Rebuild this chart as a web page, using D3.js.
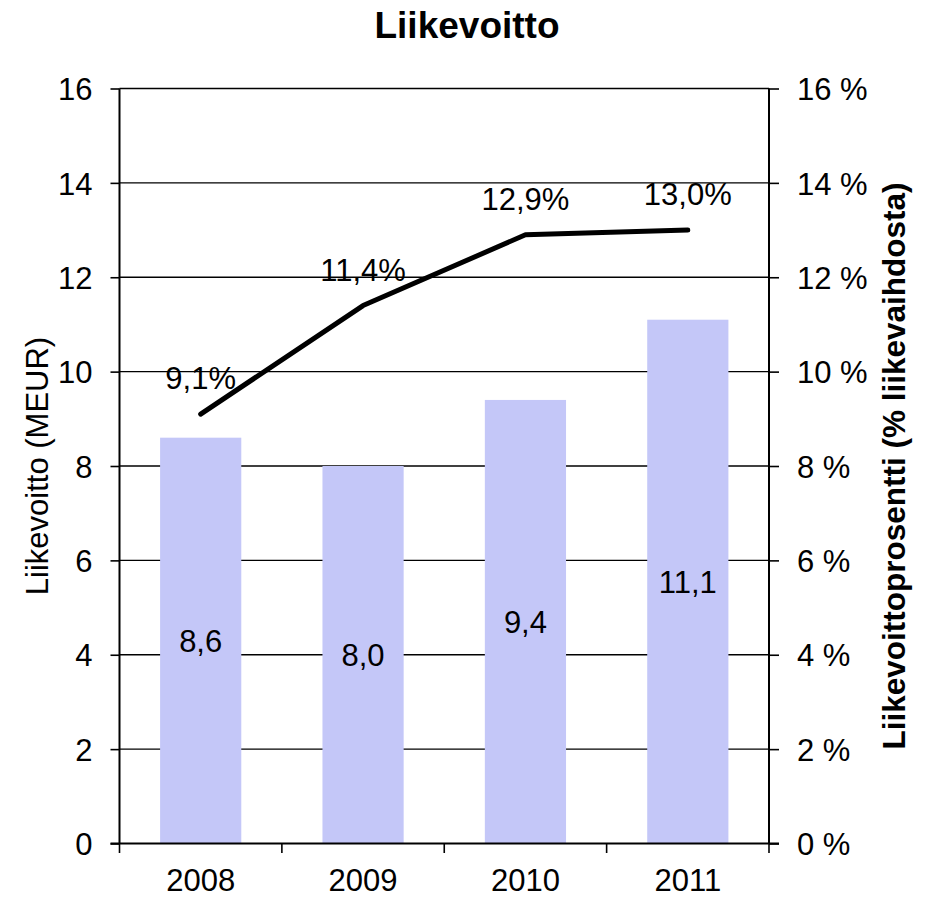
<!DOCTYPE html>
<html>
<head>
<meta charset="utf-8">
<script src="https://cdn.jsdelivr.net/npm/d3@7"></script>
<style>
  html, body { margin: 0; padding: 0; background: #fff; }
  svg { display: block; font-family: "Liberation Sans", Arial, Helvetica, sans-serif; }
</style>
</head>
<body>
<svg id="chart" width="925" height="897"></svg>
<script>
const years = ["2008", "2009", "2010", "2011"];
const operatingProfit = [8.6, 8.0, 9.4, 11.1];      // MEUR
const operatingMargin = [9.1, 11.4, 12.9, 13.0];     // % of revenue
const leftTicks = [0, 2, 4, 6, 8, 10, 12, 14, 16];
const rightTicks = [0, 2, 4, 6, 8, 10, 12, 14, 16];
const title = "Liikevoitto";
const leftTitle = "Liikevoitto (MEUR)";
const rightTitle = "Liikevoittoprosentti (% liikevaihdosta)";

const FS = 31;
const svg = d3.select("#chart");
const plot = { left: 119.5, right: 769, top: 88.5, bottom: 843.5 };

const x = d3.scaleBand().domain(years).range([plot.left, plot.right])
  .paddingInner(0.5).paddingOuter(0.25);
const y = d3.scaleLinear().domain([0, 16]).range([plot.bottom, plot.top]);
const y2 = d3.scaleLinear().domain([0, 16]).range([plot.bottom, plot.top]);
const comma = v => d3.format(".1f")(v).replace(".", ",");

// gridlines
svg.append("g").selectAll("line").data(leftTicks.filter(d => d > 0)).join("line")
  .attr("x1", plot.left).attr("x2", plot.right)
  .attr("y1", d => y(d)).attr("y2", d => y(d))
  .attr("stroke", "#000").attr("stroke-width", 1.4);

// bars
svg.append("g").selectAll("rect").data(years).join("rect")
  .attr("x", d => x(d)).attr("width", x.bandwidth())
  .attr("y", (d, i) => y(operatingProfit[i]))
  .attr("height", (d, i) => y(0) - y(operatingProfit[i]))
  .attr("fill", "#c4c7f8");

// left axis
const gl = svg.append("g").attr("transform", `translate(${plot.left},0)`)
  .call(d3.axisLeft(y).tickValues(leftTicks).tickSize(9).tickPadding(18).tickFormat(d3.format("d")));
// right axis
const gr = svg.append("g").attr("transform", `translate(${plot.right},0)`)
  .call(d3.axisRight(y2).tickValues(rightTicks).tickSize(10).tickPadding(18).tickFormat(d => d + " %"));
[gl, gr].forEach(g => {
  g.select(".domain").attr("stroke", "#000").attr("stroke-width", 2);
  g.selectAll(".tick line").attr("stroke", "#000").attr("stroke-width", 1.6);
  g.selectAll(".tick text").attr("font-size", FS).attr("fill", "#000")
    .attr("font-family", "Liberation Sans, Arial, sans-serif").attr("dy", "0.36em");
});
gl.select(".domain").attr("d", `M0,${plot.top}V${plot.bottom}`);
gr.select(".domain").attr("d", `M0,${plot.top}V${plot.bottom}`);

// bottom axis: line + boundary ticks
const step = x.step();
const boundaries = years.map(d => x(d) + x.bandwidth() / 2 - step / 2)
  .concat([x(years[years.length - 1]) + x.bandwidth() / 2 + step / 2]);
svg.append("line").attr("x1", plot.left - 9).attr("x2", plot.right + 10)
  .attr("y1", plot.bottom).attr("y2", plot.bottom)
  .attr("stroke", "#000").attr("stroke-width", 2.2);
svg.append("g").selectAll("line").data(boundaries).join("line")
  .attr("x1", d => d).attr("x2", d => d)
  .attr("y1", plot.bottom).attr("y2", plot.bottom + 9.5)
  .attr("stroke", "#000").attr("stroke-width", 1.6);
svg.append("g").selectAll("text").data(years).join("text")
  .attr("x", d => x(d) + x.bandwidth() / 2).attr("y", 891)
  .attr("text-anchor", "middle").attr("font-size", FS).text(d => d);

// bar labels
svg.append("g").selectAll("text").data(years).join("text")
  .attr("x", d => x(d) + x.bandwidth() / 2)
  .attr("y", (d, i) => (y(0) + y(operatingProfit[i])) / 2 + 11)
  .attr("text-anchor", "middle").attr("font-size", FS)
  .text((d, i) => comma(operatingProfit[i]));

// line
const line = d3.line()
  .x((d, i) => x(years[i]) + x.bandwidth() / 2)
  .y(d => y2(d));
svg.append("path").datum(operatingMargin).attr("d", line)
  .attr("fill", "none").attr("stroke", "#000").attr("stroke-width", 5)
  .attr("stroke-linecap", "round").attr("stroke-linejoin", "round");

// line labels
svg.append("g").selectAll("text").data(operatingMargin).join("text")
  .attr("x", (d, i) => x(years[i]) + x.bandwidth() / 2)
  .attr("y", d => y2(d) - 25)
  .attr("text-anchor", "middle").attr("font-size", FS)
  .text(d => comma(d) + "%");

// titles
svg.append("text").attr("x", 467).attr("y", 38).attr("text-anchor", "middle")
  .attr("font-size", 37).attr("font-weight", "bold").text(title);
svg.append("text").attr("transform", `translate(48,${(plot.top + plot.bottom) / 2}) rotate(-90)`)
  .attr("text-anchor", "middle").attr("font-size", FS).text(leftTitle);
svg.append("text").attr("transform", `translate(905,${(plot.top + plot.bottom) / 2}) rotate(-90)`)
  .attr("text-anchor", "middle").attr("font-size", 31.5).attr("font-weight", "bold").text(rightTitle);
</script>
</body>
</html>
